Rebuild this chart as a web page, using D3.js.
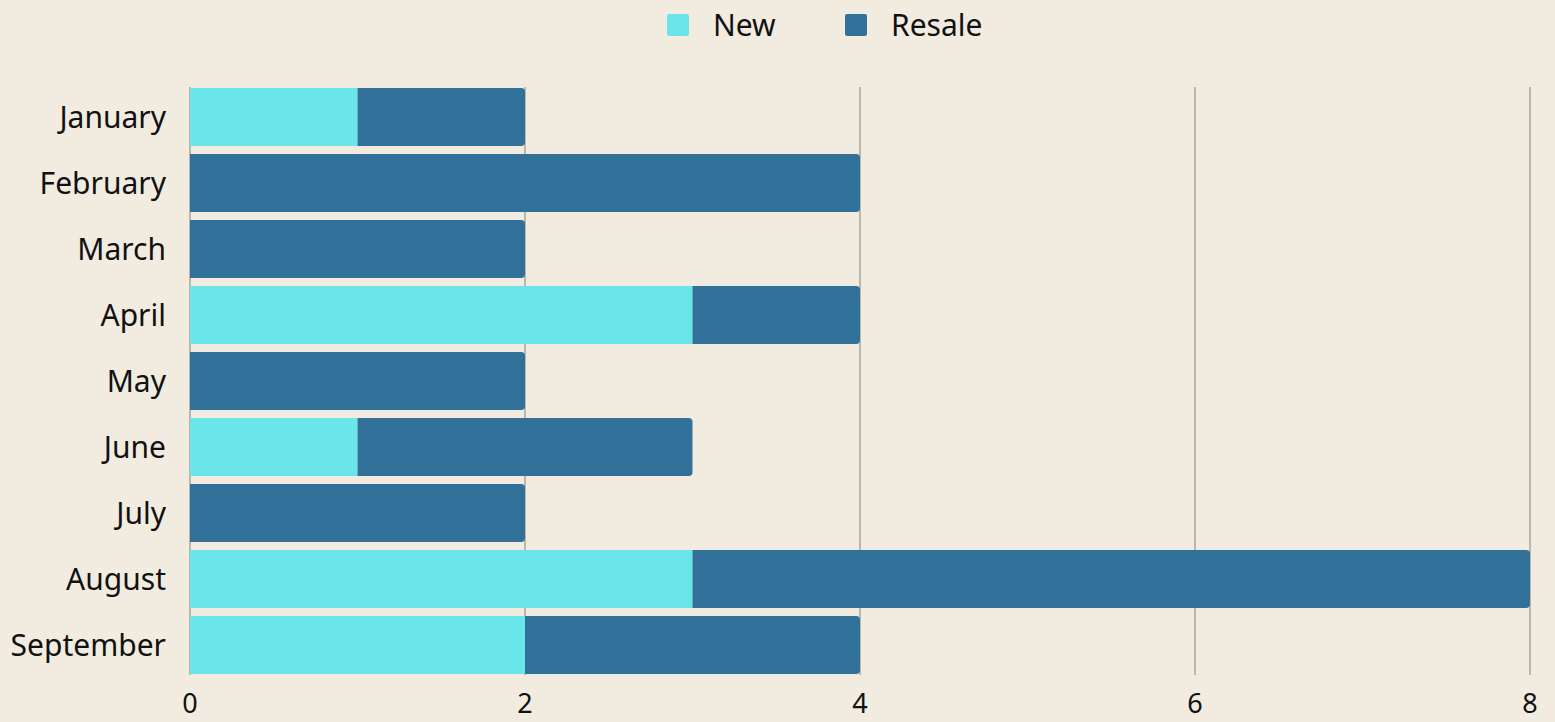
<!DOCTYPE html>
<html>
<head>
<meta charset="utf-8">
<script src="https://d3js.org/d3.v7.min.js"></script>
<style>
  html, body { margin: 0; padding: 0; background: #f2ece0; }
  text { font-family: "Noto Sans", sans-serif; fill: #111111; }
</style>
</head>
<body>
<div id="chart"></div>
<script>
// data
const months = ["January", "February", "March", "April", "May", "June", "July", "August", "September"];
const newSales = [1, 0, 0, 3, 0, 1, 0, 3, 2];
const resaleSales = [1, 4, 2, 1, 2, 2, 2, 5, 2];
const xTicks = [0, 2, 4, 6, 8];
const seriesNames = ["New", "Resale"];
const colors = ["#6ae5e9", "#307099"];

const W = 1555, H = 722;
const svg = d3.select("#chart").append("svg")
  .attr("width", W).attr("height", H);

svg.append("rect").attr("width", W).attr("height", H).attr("fill", "#f2ece0");

const x = d3.scaleLinear().domain([0, 8]).range([190, 1530]);
const y = d3.scaleBand().domain(months).range([84, 678]).paddingInner(0.12).paddingOuter(0.06);

// grid lines
svg.append("g").selectAll("line")
  .data(xTicks)
  .join("line")
    .attr("x1", d => x(d)).attr("x2", d => x(d))
    .attr("y1", 87).attr("y2", 675)
    .attr("stroke", "#bbb7ab")
    .attr("stroke-width", 2);

// stacked bars
const rows = months.map((m, i) => ({ month: m, New: newSales[i], Resale: resaleSales[i] }));
const stack = d3.stack().keys(seriesNames)(rows);

function barPath(x0, x1, y0, h, roundRight) {
  const r = roundRight ? Math.min(4, (x1 - x0) / 2) : 0;
  return `M${x0},${y0}H${x1 - r}` +
    (r ? `A${r},${r} 0 0 1 ${x1},${y0 + r}` : "") +
    `V${y0 + h - r}` +
    (r ? `A${r},${r} 0 0 1 ${x1 - r},${y0 + h}` : "") +
    `H${x0}Z`;
}

stack.forEach((layer, li) => {
  svg.append("g").selectAll("path")
    .data(layer.filter(d => d[1] > d[0]))
    .join("path")
      .attr("fill", colors[li])
      .attr("d", d => barPath(x(d[0]), x(d[1]), y(d.data.month), y.bandwidth(), li === stack.length - 1));
});

// category labels
svg.append("g").selectAll("text")
  .data(months)
  .join("text")
    .attr("x", 166)
    .attr("y", d => y(d) + y.bandwidth() / 2)
    .attr("dy", "0.35em")
    .attr("text-anchor", "end")
    .style("font-size", "30px")
    .text(d => d);

// x tick labels
svg.append("g").selectAll("text")
  .data(xTicks)
  .join("text")
    .attr("x", d => x(d))
    .attr("y", 704)
    .attr("dy", "0.35em")
    .attr("text-anchor", "middle")
    .style("font-size", "27px")
    .text(d => d);

// legend
const legendX = [667, 845];
const legend = svg.append("g").selectAll("g")
  .data(seriesNames)
  .join("g")
    .attr("transform", (d, i) => `translate(${legendX[i]},14)`);
legend.append("rect")
  .attr("width", 22).attr("height", 22).attr("rx", 2)
  .attr("fill", (d, i) => colors[i]);
legend.append("text")
  .attr("x", 46).attr("y", 11).attr("dy", "0.35em")
  .style("font-size", "30px")
  .text(d => d);
</script>
</body>
</html>
